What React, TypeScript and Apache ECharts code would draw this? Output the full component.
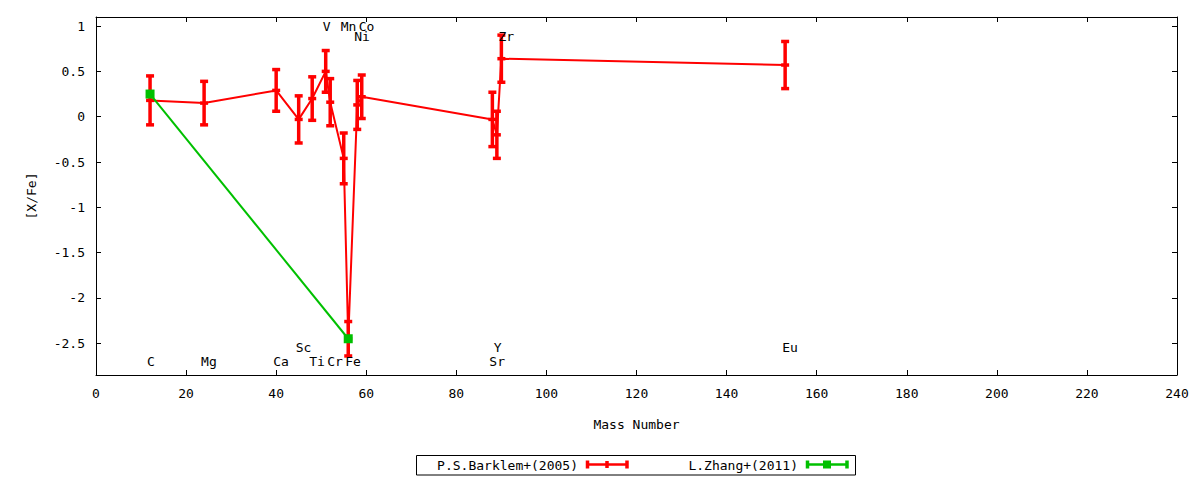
import React, { useEffect, useRef } from "react";
import * as echarts from "echarts";

// ---- data ----
const barklemName = "P.S.Barklem+(2005)";
const barklemElements = ["C", "Mg", "Ca", "Sc", "Ti", "V", "Cr", "Mn", "Fe", "Ni", "Co", "Sr", "Y", "Zr", "Eu"];
const barklemMass = [12, 24, 40, 45, 48, 51, 52, 55, 56, 58, 59, 88, 89, 90, 153];
const barklemValues = [0.18, 0.15, 0.29, -0.03, 0.2, 0.5, 0.16, -0.46, -2.45, 0.13, 0.22, -0.03, -0.2, 0.64, 0.57];
const barklemErrors = [0.27, 0.24, 0.23, 0.26, 0.24, 0.23, 0.26, 0.28, 0.19, 0.27, 0.24, 0.3, 0.26, 0.26, 0.26];

const zhangName = "L.Zhang+(2011)";
const zhangElements = ["C", "Fe"];
const zhangMass = [12, 56];
const zhangValues = [0.25, -2.45];
const zhangErrors = [0, 0];

const labelNames = ["C", "Mg", "Ca", "Sc", "Ti", "V", "Cr", "Mn", "Fe", "Co", "Ni", "Sr", "Y", "Zr", "Eu"];
const labelMass = [12, 24, 40, 45, 48, 51, 52, 55, 56, 59, 58, 88, 89, 90, 153];
const labelY = [-2.7, -2.7, -2.7, -2.55, -2.7, 1.0, -2.7, 1.0, -2.7, 1.0, 0.89, -2.7, -2.55, 0.89, -2.55];

const yTickValues = [-2.5, -2, -1.5, -1, -0.5, 0, 0.5, 1];
const xMin = 0;
const xMax = 240;
const xStep = 20;
const yMin = -2.85;
const yMax = 1.1;

const xLabel = "Mass Number";
const yLabel = "[X/Fe]";

const RED = "#ff0000";
const GREEN = "#00c000";
const FONT = "DejaVu Sans Mono";

function errorBarSeries(name: string, color: string, xs: number[], ys: number[], es: number[], withCenter: boolean) {
  return {
    type: "custom",
    name,
    xAxisIndex: 0,
    yAxisIndex: 0,
    clip: true,
    z: 4,
    silent: true,
    encode: { x: 0, y: 1 },
    data: xs.map((x, i) => [x, ys[i], es[i]]),
    renderItem: (_params: any, api: any) => {
      const x = api.value(0);
      const y = api.value(1);
      const e = api.value(2);
      const c = api.coord([x, y]);
      const hi = api.coord([x, y + e]);
      const lo = api.coord([x, y - e]);
      const w = 4;
      const style = { stroke: color, lineWidth: 3.5, fill: null };
      const children: any[] = [];
      if (e > 0) {
        children.push({ type: "line", shape: { x1: c[0], y1: hi[1], x2: c[0], y2: lo[1] }, style });
        children.push({ type: "line", shape: { x1: c[0] - w, y1: hi[1], x2: c[0] + w, y2: hi[1] }, style });
        children.push({ type: "line", shape: { x1: c[0] - w, y1: lo[1], x2: c[0] + w, y2: lo[1] }, style });
      }
      if (withCenter) {
        children.push({ type: "line", shape: { x1: c[0] - w, y1: c[1], x2: c[0] + w, y2: c[1] }, style });
      }
      return { type: "group", children };
    },
  };
}

export default function App() {
  const ref = useRef<HTMLDivElement>(null);

  useEffect(() => {
    document.body.style.margin = "0";
    if (!ref.current) return;
    const chart = echarts.init(ref.current, undefined, { renderer: "svg" });

    const axisCommon = {
      type: "value",
      axisLine: { show: true, onZero: false, lineStyle: { color: "#000", width: 1 } },
      splitLine: { show: false },
    };

    const option: any = {
      animation: false,
      backgroundColor: "#fff",
      textStyle: { fontFamily: FONT, color: "#000" },
      grid: { left: 96, right: 23, top: 17, bottom: 105, containLabel: false, outerBoundsMode: "none" },
      xAxis: [
        {
          ...axisCommon,
          position: "bottom",
          min: xMin,
          max: xMax,
          interval: xStep,
          axisTick: { show: true, inside: true, length: 5, lineStyle: { color: "#000" } },
          axisLabel: { show: true, margin: 12, fontSize: 13, fontFamily: FONT, color: "#000" },
          name: xLabel,
          nameLocation: "middle",
          nameGap: 43,
          nameTextStyle: { fontSize: 13, fontFamily: FONT, color: "#000" },
        },
        {
          ...axisCommon,
          position: "top",
          min: xMin,
          max: xMax,
          interval: xStep,
          axisTick: { show: true, inside: true, length: 5, lineStyle: { color: "#000" } },
          axisLabel: { show: false },
        },
      ],
      yAxis: [
        {
          ...axisCommon,
          position: "left",
          min: yMin,
          max: yMax,
          axisTick: { show: true, inside: true, length: 5, customValues: yTickValues, lineStyle: { color: "#000" } },
          axisLabel: { show: true, margin: 11, fontSize: 13, fontFamily: FONT, color: "#000", customValues: yTickValues },
          name: yLabel,
          nameLocation: "middle",
          nameGap: 58,
          nameRotate: 90,
          nameTextStyle: { fontSize: 13, fontFamily: FONT, color: "#000" },
        },
        {
          ...axisCommon,
          position: "right",
          min: yMin,
          max: yMax,
          axisTick: { show: true, inside: true, length: 5, customValues: yTickValues, lineStyle: { color: "#000" } },
          axisLabel: { show: false, customValues: yTickValues },
        },
      ],
      series: [
        {
          type: "line",
          name: barklemName,
          xAxisIndex: 0,
          yAxisIndex: 0,
          data: barklemMass.map((m, i) => [m, barklemValues[i], barklemElements[i]]),
          symbol: "none",
          lineStyle: { color: RED, width: 2 },
          itemStyle: { color: RED },
          z: 3,
        },
        errorBarSeries(barklemName, RED, barklemMass, barklemValues, barklemErrors, true),
        {
          type: "line",
          name: zhangName,
          xAxisIndex: 0,
          yAxisIndex: 0,
          data: zhangMass.map((m, i) => [m, zhangValues[i], zhangElements[i]]),
          symbol: "rect",
          symbolSize: 9,
          showAllSymbol: true,
          lineStyle: { color: GREEN, width: 2 },
          itemStyle: { color: GREEN },
          z: 5,
        },
        errorBarSeries(zhangName, GREEN, zhangMass, zhangValues, zhangErrors, false),
        {
          type: "custom",
          name: "labels",
          xAxisIndex: 0,
          yAxisIndex: 0,
          silent: true,
          z: 6,
          encode: { x: 0, y: 1 },
          data: labelMass.map((m, i) => [m, labelY[i], labelNames[i]]),
          renderItem: (_p: any, api: any) => {
            const c = api.coord([api.value(0), api.value(1)]);
            const idx = _p.dataIndex;
            return {
              type: "text",
              x: c[0] - 3,
              y: c[1],
              style: {
                text: labelNames[idx],
                fill: "#000",
                font: `13px "${FONT}"`,
                textAlign: "left",
                textVerticalAlign: "middle",
                verticalAlign: "middle",
                align: "left",
              },
            };
          },
        },
      ],
      graphic: [
        {
          type: "rect",
          shape: { x: 416.5, y: 455.5, width: 439, height: 19.5 },
          style: { fill: "none", stroke: "#000", lineWidth: 1 },
        },
        {
          type: "text",
          x: 578,
          y: 465,
          style: { text: barklemName, fill: "#000", font: `13px "${FONT}"`, align: "right", verticalAlign: "middle" },
        },
        {
          type: "group",
          children: [
            { type: "line", shape: { x1: 586, y1: 464.5, x2: 628, y2: 464.5 }, style: { stroke: RED, lineWidth: 2.5 } },
            { type: "line", shape: { x1: 587.5, y1: 460.5, x2: 587.5, y2: 468.5 }, style: { stroke: RED, lineWidth: 3.5 } },
            { type: "line", shape: { x1: 627, y1: 460.5, x2: 627, y2: 468.5 }, style: { stroke: RED, lineWidth: 3.5 } },
            { type: "line", shape: { x1: 607, y1: 461, x2: 607, y2: 468 }, style: { stroke: RED, lineWidth: 3.5 } },
          ],
        },
        {
          type: "text",
          x: 798,
          y: 465,
          style: { text: zhangName, fill: "#000", font: `13px "${FONT}"`, align: "right", verticalAlign: "middle" },
        },
        {
          type: "group",
          children: [
            { type: "line", shape: { x1: 806, y1: 464.5, x2: 848, y2: 464.5 }, style: { stroke: GREEN, lineWidth: 2.5 } },
            { type: "line", shape: { x1: 807.5, y1: 460.5, x2: 807.5, y2: 468.5 }, style: { stroke: GREEN, lineWidth: 3.5 } },
            { type: "line", shape: { x1: 847, y1: 460.5, x2: 847, y2: 468.5 }, style: { stroke: GREEN, lineWidth: 3.5 } },
            { type: "rect", shape: { x: 823, y: 460.5, width: 8, height: 8 }, style: { fill: GREEN } },
          ],
        },
      ],
    };

    chart.setOption(option);
    return () => chart.dispose();
  }, []);

  return <div ref={ref} style={{ width: 1200, height: 480 }} />;
}
